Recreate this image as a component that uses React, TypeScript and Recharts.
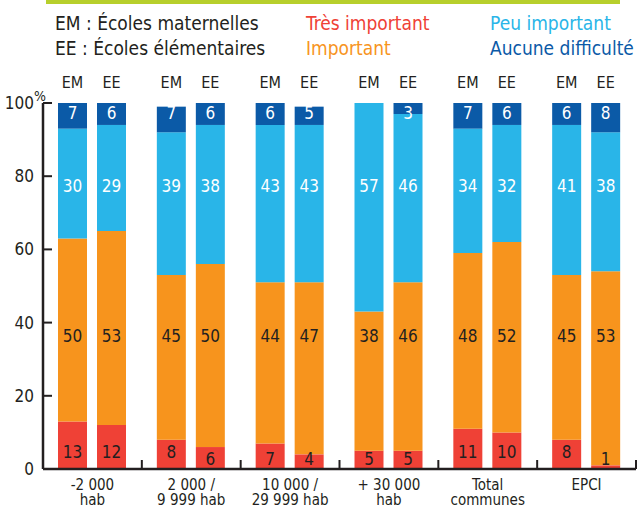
import React from "react";
import { BarChart, Bar, XAxis, YAxis, LabelList } from "recharts";

// ---------- data ----------
const categories: string[][] = [
  ["-2 000", "hab"],
  ["2 000 /", "9 999 hab"],
  ["10 000 /", "29 999 hab"],
  ["+ 30 000", "hab"],
  ["Total", "communes"],
  ["EPCI", ""],
];
const emTres = [13, 8, 7, 5, 11, 8];
const emImportant = [50, 45, 44, 38, 48, 45];
const emPeu = [30, 39, 43, 57, 34, 41];
const emAucune = [7, 7, 6, 0, 7, 6];
const eeTres = [12, 6, 4, 5, 10, 1];
const eeImportant = [53, 50, 47, 46, 52, 53];
const eePeu = [29, 38, 43, 46, 32, 38];
const eeAucune = [6, 6, 5, 3, 6, 8];
const yTicks = [0, 20, 40, 60, 80, 100];
const seriesNames = ["Très important", "Important", "Peu important", "Aucune difficulté"];
const stackHeaders = ["EM", "EE"];
// value levels at which the printed numbers sit (per series), and the EM/EE header
const labelLevels = [4.6, 36.3, 77.3, 97.3];
const smallRedLevel = 2.7;
const headerLevel = 105.5;

// ---------- style ----------
const FONT =
  "'Liberation Sans Narrow', 'DejaVu Sans Condensed', 'Roboto Condensed', 'Liberation Sans', sans-serif";
const DARK = "#231f20";
const COLORS = ["#ef4136", "#f7941d", "#29b5e8", "#0b5aa7"];
const LABEL_COLORS = [DARK, DARK, "#ffffff", "#ffffff"];
const GREEN = "#b7cf2c";

const W = 638;
const H = 506;
const M = { top: 103, right: 2, bottom: 0, left: 0 };
const Y_AXIS_W = 43;
const X_AXIS_H = 37;
const BAR_SIZE = 29;
const BAR_GAP = 10;
const plotTop = M.top;
const plotBottom = H - M.bottom - X_AXIS_H;
const plotLeft = M.left + Y_AXIS_W;
const plotRight = W - M.right;
const band = (plotRight - plotLeft) / categories.length;
const yAt = (v: number) => plotBottom - (v / 100) * (plotBottom - plotTop);

const categoryNames = categories.map((c) => c.join(" "));
const data = categoryNames.map((name, i) => ({
  name,
  emTres: emTres[i],
  emImportant: emImportant[i],
  emPeu: emPeu[i],
  emAucune: emAucune[i],
  eeTres: eeTres[i],
  eeImportant: eeImportant[i],
  eePeu: eePeu[i],
  eeAucune: eeAucune[i],
}));

const emSeries = [emTres, emImportant, emPeu, emAucune];
const eeSeries = [eeTres, eeImportant, eePeu, eeAucune];

function renderStack(series: number[][], header: string, cx: number, index: number) {
  return (
    <g key={header}>
      <text x={cx} y={yAt(headerLevel)} textAnchor="middle" dominantBaseline="central" fontSize={16} fill={DARK}>
        {header}
      </text>
      {series.map((arr, k) => {
        const v = arr[index];
        if (!(v > 0)) return null;
        const level = k === 0 && v < 8 ? smallRedLevel : labelLevels[k];
        return (
          <text
            key={k}
            x={cx}
            y={yAt(level)}
            textAnchor="middle"
            dominantBaseline="central"
            fontSize={17}
            fill={LABEL_COLORS[k]}
          >
            {v}
          </text>
        );
      })}
    </g>
  );
}

// Drawn on the last series (EE "Aucune difficulté"), so the labels lie above every bar.
const allLabels = (props: any) => {
  const vb = props.viewBox || props;
  const x = Number(props.x ?? vb.x);
  const width = Number(props.width ?? vb.width);
  const cxEE = x + width / 2;
  const cxEM = cxEE - (BAR_SIZE + BAR_GAP);
  const index = Math.max(0, Math.min(categories.length - 1, Math.floor((cxEE - plotLeft) / band)));
  return (
    <g style={{ fontFamily: FONT }}>
      {renderStack(emSeries, stackHeaders[0], cxEM, index)}
      {renderStack(eeSeries, stackHeaders[1], cxEE, index)}
    </g>
  );
};

const YTick = (props: any) => {
  const { x, y, payload } = props;
  return (
    <g style={{ fontFamily: FONT }}>
      <line x1={x} x2={x + 9} y1={y} y2={y} stroke={DARK} strokeWidth={2} />
      <text x={x - 9} y={y} textAnchor="end" dominantBaseline="central" fontSize={17} fill={DARK}>
        {payload.value}
      </text>
      {payload.value === 100 ? (
        <text x={x - 9} y={y - 7} textAnchor="start" dominantBaseline="central" fontSize={14} fill={DARK}>
          %
        </text>
      ) : null}
    </g>
  );
};

const XTick = (props: any) => {
  const { x, y, payload } = props;
  const idx = categoryNames.indexOf(payload.value);
  const lines = categories[idx] || ["", ""];
  return (
    <g style={{ fontFamily: FONT }}>
      <line x1={x + band / 2} x2={x + band / 2} y1={y} y2={y - 9} stroke={DARK} strokeWidth={2} />
      <text x={x} y={y + 16} textAnchor="middle" dominantBaseline="central" fontSize={15} fill={DARK}>
        {lines[0]}
      </text>
      <text x={x} y={y + 31} textAnchor="middle" dominantBaseline="central" fontSize={15} fill={DARK}>
        {lines[1]}
      </text>
    </g>
  );
};

const legendItems = [
  { text: "EM : Écoles maternelles", color: DARK, left: 55, top: 23 },
  { text: "EE : Écoles élémentaires", color: DARK, left: 55, top: 48 },
  { text: seriesNames[0], color: COLORS[0], left: 306, top: 23 },
  { text: seriesNames[1], color: COLORS[1], left: 306, top: 48 },
  { text: seriesNames[2], color: COLORS[2], left: 490, top: 23 },
  { text: seriesNames[3], color: COLORS[3], left: 490, top: 48 },
];

export default function App() {
  return (
    <div
      style={{
        position: "absolute",
        left: 0,
        top: 0,
        width: W,
        height: H,
        background: "#ffffff",
        overflow: "hidden",
        fontFamily: FONT,
      }}
    >
      <div style={{ position: "absolute", left: 46, top: 0, width: 574, height: 4, background: GREEN }} />
      {legendItems.map((it) => (
        <div
          key={it.text}
          style={{
            position: "absolute",
            left: it.left,
            top: it.top - 11,
            height: 22,
            lineHeight: "22px",
            fontSize: 19,
            color: it.color,
            whiteSpace: "nowrap",
          }}
        >
          {it.text}
        </div>
      ))}
      <div style={{ position: "absolute", left: 0, top: 0 }}>
        <BarChart width={W} height={H} data={data} margin={M} barSize={BAR_SIZE} barGap={BAR_GAP}>
          <Bar dataKey="emTres" stackId="EM" fill={COLORS[0]} isAnimationActive={false} />
          <Bar dataKey="emImportant" stackId="EM" fill={COLORS[1]} isAnimationActive={false} />
          <Bar dataKey="emPeu" stackId="EM" fill={COLORS[2]} isAnimationActive={false} />
          <Bar dataKey="emAucune" stackId="EM" fill={COLORS[3]} isAnimationActive={false} />
          <Bar dataKey="eeTres" stackId="EE" fill={COLORS[0]} isAnimationActive={false} />
          <Bar dataKey="eeImportant" stackId="EE" fill={COLORS[1]} isAnimationActive={false} />
          <Bar dataKey="eePeu" stackId="EE" fill={COLORS[2]} isAnimationActive={false} />
          <Bar dataKey="eeAucune" stackId="EE" fill={COLORS[3]} isAnimationActive={false}>
            <LabelList dataKey="eeAucune" content={allLabels} />
          </Bar>
          <XAxis
            dataKey="name"
            height={X_AXIS_H}
            tickLine={false}
            tickSize={0}
            tickMargin={0}
            interval={0}
            axisLine={{ stroke: DARK, strokeWidth: 2.5 }}
            tick={<XTick />}
          />
          <YAxis
            width={Y_AXIS_W}
            domain={[0, 100]}
            ticks={yTicks}
            tickLine={false}
            tickSize={0}
            tickMargin={0}
            interval={0}
            axisLine={{ stroke: DARK, strokeWidth: 2.5 }}
            tick={<YTick />}
          />
        </BarChart>
      </div>
    </div>
  );
}
